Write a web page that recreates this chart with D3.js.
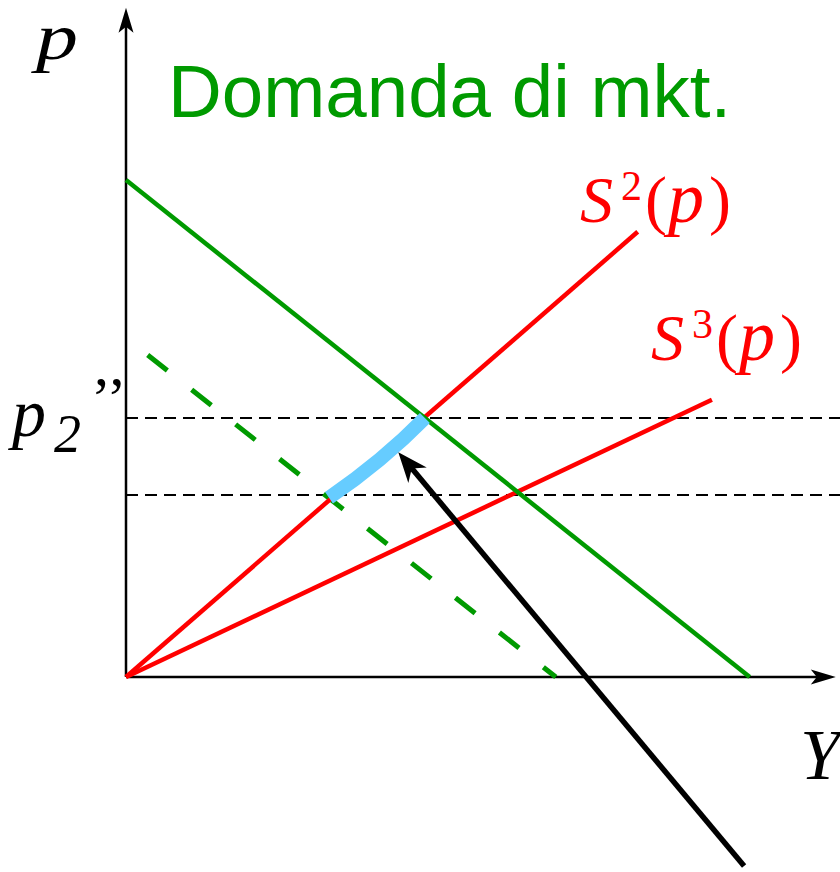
<!DOCTYPE html>
<html>
<head>
<meta charset="utf-8">
<script src="https://cdn.jsdelivr.net/npm/d3@7"></script>
<style>
  body { margin: 0; background: #fff; }
</style>
</head>
<body>
<div id="chart"></div>
<script>
// Quantity (Y) and price (p) in chart units
const axisEnd = { x: 10.14, y: 9.56 };
const demand = [[0, 7.1], [8.91, 0]];
const supply2 = [[0, 0], [7.31, 6.36]];
const supply3 = [[0, 0], [8.37, 3.96]];
const demandShifted = [[0.31, 4.6], [6.14, 0]];
const priceLevels = [3.7, 2.6];
const highlight = [[2.9, 2.56], [3.66, 3.08], [4.27, 3.7]];   // start, control, end
const pointer = [[8.83, -2.7], [3.89, 3.21]];                // tail, tip

const width = 840, height = 872;
const origin = { left: 126, bottom: 677 };
const unit = 70;

const green = "#009a00", red = "#ff0000", blue = "#66ccff";

const x = d3.scaleLinear().domain([0, 10]).range([origin.left, origin.left + 10 * unit]);
const y = d3.scaleLinear().domain([0, 10]).range([origin.bottom, origin.bottom - 10 * unit]);

const svg = d3.select("#chart")
    .append("svg")
    .attr("width", width)
    .attr("height", height);

const line = d3.line().x(d => x(d[0])).y(d => y(d[1]));

// arrowhead with a notched back, pointing from (x0,y0) to (x1,y1)
function arrowHead(x0, y0, x1, y1, len, half, notch) {
    const a = Math.atan2(y1 - y0, x1 - x0);
    const c = Math.cos(a), s = Math.sin(a);
    const p = (l, w) => [x1 - l * c - w * s, y1 - l * s + w * c];
    const pts = [[x1, y1], p(len, half), p(len - notch, 0), p(len, -half)];
    return "M" + pts.map(d => d.join(",")).join("L") + "Z";
}

// dashed price levels
svg.selectAll(".level")
    .data(priceLevels)
    .enter()
    .append("line")
    .attr("class", "level")
    .attr("x1", x(0))
    .attr("x2", width)
    .attr("y1", d => y(d))
    .attr("y2", d => y(d))
    .attr("stroke", "#000")
    .attr("stroke-width", 2.2)
    .attr("stroke-dasharray", "12 7");

// axes
svg.append("line")
    .attr("x1", x(0)).attr("y1", y(0))
    .attr("x2", x(axisEnd.x) - 8).attr("y2", y(0))
    .attr("stroke", "#000").attr("stroke-width", 2.5);
svg.append("path")
    .attr("d", arrowHead(x(0), y(0), x(axisEnd.x), y(0), 25, 7.5, 6))
    .attr("fill", "#000");

svg.append("line")
    .attr("x1", x(0)).attr("y1", y(0))
    .attr("x2", x(0)).attr("y2", y(axisEnd.y) + 8)
    .attr("stroke", "#000").attr("stroke-width", 2.5);
svg.append("path")
    .attr("d", arrowHead(x(0), y(0), x(0), y(axisEnd.y), 25, 7.5, 6))
    .attr("fill", "#000");

// curves
svg.append("path").attr("d", line(demandShifted))
    .attr("fill", "none").attr("stroke", green)
    .attr("stroke-width", 5).attr("stroke-dasharray", "25 31");

svg.append("path").attr("d", line(supply3))
    .attr("fill", "none").attr("stroke", red).attr("stroke-width", 4.5);

svg.append("path").attr("d", line(supply2))
    .attr("fill", "none").attr("stroke", red).attr("stroke-width", 4.5);

svg.append("path").attr("d", line(demand))
    .attr("fill", "none").attr("stroke", green).attr("stroke-width", 4.5);

// highlighted stretch of S2
const hp = highlight.map(d => [x(d[0]), y(d[1])]);
svg.append("path")
    .attr("d", `M${hp[0]}Q${hp[1]} ${hp[2]}`)
    .attr("fill", "none")
    .attr("stroke", blue)
    .attr("stroke-width", 14);

// pointer arrow
const [t0, t1] = pointer.map(d => [x(d[0]), y(d[1])]);
const ang = Math.atan2(t1[1] - t0[1], t1[0] - t0[0]);
svg.append("line")
    .attr("x1", t0[0]).attr("y1", t0[1])
    .attr("x2", t1[0] - 18 * Math.cos(ang)).attr("y2", t1[1] - 18 * Math.sin(ang))
    .attr("stroke", "#000").attr("stroke-width", 5.5);
svg.append("path")
    .attr("d", arrowHead(t0[0], t0[1], t1[0], t1[1], 30, 12, 9))
    .attr("fill", "#000");

// labels
const serif = "'Liberation Serif', 'Times New Roman', serif";

svg.append("text")
    .attr("x", 168).attr("y", 117)
    .attr("fill", green)
    .style("font-family", "'Liberation Sans', Arial, sans-serif")
    .style("font-size", "74.5px")
    .text("Domanda di mkt.");

svg.append("text")
    .attr("x", 36).attr("y", 59)
    .attr("textLength", 42)
    .attr("lengthAdjust", "spacingAndGlyphs")
    .style("font-family", serif).style("font-style", "italic").style("font-size", "66px")
    .text("p");

const p2 = svg.append("text")
    .attr("x", 12).attr("y", 436)
    .style("font-family", serif).style("font-size", "68px");
p2.append("tspan").style("font-style", "italic").text("p");
p2.append("tspan").attr("dy", 16).attr("dx", 8).style("font-style", "italic").style("font-size", "54px").text("2");
p2.append("tspan").attr("dy", -34).attr("dx", 10).style("font-size", "60px").text("\u2019\u2019");

svg.append("text")
    .attr("x", 800).attr("y", 779)
    .style("font-family", serif).style("font-style", "italic").style("font-size", "72px")
    .text("Y");

function supplyLabel(xPos, yPos, sup) {
    const t = svg.append("text")
        .attr("x", xPos).attr("y", yPos)
        .attr("fill", red)
        .style("font-family", serif)
        .style("font-size", "66px");
    t.append("tspan").style("font-style", "italic").text("S");
    t.append("tspan").attr("dy", -22).attr("dx", 8).style("font-size", "42px").text(sup);
    t.append("tspan").attr("dy", 22).attr("dx", 3).text("(");
    t.append("tspan").attr("dx", 1).style("font-style", "italic").style("font-size", "72px").text("p");
    t.append("tspan").attr("dx", 5).text(")");
}
supplyLabel(580, 222, "2");
supplyLabel(651, 360, "3");
</script>
</body>
</html>
